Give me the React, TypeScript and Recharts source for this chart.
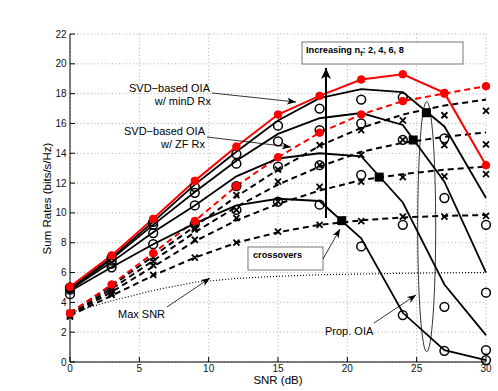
import React from "react";
import { ComposedChart, Line, Scatter, XAxis, YAxis, CartesianGrid } from "recharts";

// SNR grid (dB)
const snr = [0, 3, 6, 9, 12, 15, 18, 21, 24, 27, 30];

// SVD-based OIA (red)
const svdMinD = [5.05, 7.15, 9.6, 12.15, 14.45, 16.6, 17.85, 18.95, 19.3, 18.05, 13.2];
const svdZF = [3.27, 5.2, 7.3, 9.46, 11.8, 13.73, 15.38, 16.6, 17.5, 18.0, 18.5];

// Prop. OIA, analysis (solid), n_f = 8, 6, 4, 2
const propA = [4.95, 7.0, 9.4, 11.9, 14.1, 16.2, 17.7, 18.3, 18.1, 15.8, 11.0];
const propB = [4.9, 6.9, 9.2, 11.4, 13.5, 15.3, 16.35, 16.7, 15.9, 12.1, 6.0];
const propC = [4.85, 6.7, 8.7, 10.5, 12.45, 13.65, 14.0, 13.8, 10.7, 5.2, 1.8];
const propD = [4.75, 6.35, 7.9, 9.3, 10.5, 10.95, 10.8, 8.3, 3.3, 0.8, 0.13];

// Prop. OIA, simulation (circles)
const ringA = [5.0, 7.0, 9.4, 11.75, 13.95, 15.85, 17.0, 17.6, 17.75, 15.0, 9.2];
const ringB = [4.95, 6.8, 9.2, 11.35, 13.3, 14.8, 15.55, 16.0, 14.9, 11.0, 4.65];
const ringC = [4.85, 6.6, 8.65, 10.5, 11.8, 13.1, 13.2, 12.55, 9.2, 3.7, 0.8];
const ringD = [4.55, 6.35, 7.9, 9.25, 10.2, 10.75, 10.55, 7.75, 3.15, 0.75, 0.13];

// Conventional OIA, analysis (dashed)
const zfA = [3.3, 5.1, 7.1, 9.1, 11.1, 12.9, 14.5, 15.7, 16.6, 17.2, 17.6];
const zfB = [3.2, 4.9, 6.8, 8.7, 10.4, 11.9, 13.1, 14.1, 14.7, 15.1, 15.4];
const zfC = [3.15, 4.7, 6.4, 8.1, 9.5, 10.6, 11.5, 12.2, 12.6, 12.9, 13.1];
const zfD = [3.1, 4.45, 5.8, 7.0, 8.0, 8.7, 9.2, 9.5, 9.7, 9.8, 9.86];

// Conventional OIA, simulation (crosses)
const crossA = [3.3, 5.0, 7.0, 9.0, 11.2, 12.9, 14.55, 15.55, 16.2, 16.55, 16.85];
const crossB = [3.2, 4.8, 6.75, 8.9, 10.2, 12.1, 13.2, 13.9, 14.9, 14.55, 14.6];
const crossC = [3.1, 4.6, 6.5, 8.2, 9.65, 10.75, 11.75, 12.1, 12.4, 12.45, 12.6];
const crossD = [3.05, 4.5, 5.85, 7.0, 8.0, 8.75, 9.2, 9.45, 9.75, 9.75, 9.8];

// Max SNR (dotted)
const maxSnr = [3.3, 4.1, 4.8, 5.35, 5.6, 5.75, 5.85, 5.9, 5.95, 5.98, 6.0];

// crossover points (squares)
const crossSnr = [19.6, 22.3, 24.75, 25.7];
const crossRate = [9.48, 12.4, 14.89, 16.72];

const xTicks = [0, 5, 10, 15, 20, 25, 30];
const yTicks = [0, 2, 4, 6, 8, 10, 12, 14, 16, 18, 20, 22];

const rows = snr.map((s, i) => ({
  snr: s,
  svdMinD: svdMinD[i],
  svdZF: svdZF[i],
  propA: propA[i],
  propB: propB[i],
  propC: propC[i],
  propD: propD[i],
  ringA: ringA[i],
  ringB: ringB[i],
  ringC: ringC[i],
  ringD: ringD[i],
  zfA: zfA[i],
  zfB: zfB[i],
  zfC: zfC[i],
  zfD: zfD[i],
  crossA: crossA[i],
  crossB: crossB[i],
  crossC: crossC[i],
  crossD: crossD[i],
  maxSnr: maxSnr[i],
}));

const crossovers = crossSnr.map((s, i) => ({ snr: s, rate: crossRate[i] }));

const FONT = "'Liberation Sans', Arial, sans-serif";

const ring = (p: any) => (
  <circle key={`r-${p.dataKey}-${p.index}`} cx={p.cx} cy={p.cy} r={4.4} fill="none" stroke="#000" strokeWidth={1.5} />
);

const cross = (p: any) => {
  const { cx, cy } = p;
  const s = 3;
  return (
    <path
      key={`x-${p.dataKey}-${p.index}`}
      d={`M${cx - s},${cy - s}L${cx + s},${cy + s}M${cx - s},${cy + s}L${cx + s},${cy - s}`}
      stroke="#000"
      strokeWidth={1.8}
      fill="none"
    />
  );
};

const redDot = (p: any) => (
  <circle key={`d-${p.dataKey}-${p.index}`} cx={p.cx} cy={p.cy} r={3.8} fill="#f00" stroke="#f00" strokeWidth={1} />
);

const square = (p: any) => <rect x={p.cx - 4.5} y={p.cy - 4.5} width={9} height={9} fill="#000" />;

const tickStyle = { fontSize: 10, fill: "#111", fontFamily: FONT };

export default function App() {
  const dashed = { stroke: "#000", strokeWidth: 2, strokeDasharray: "6 4", dot: false, isAnimationActive: false, activeDot: false } as any;
  const solid = { stroke: "#000", strokeWidth: 1.8, dot: false, isAnimationActive: false, activeDot: false } as any;
  const marks = { stroke: "none", isAnimationActive: false, activeDot: false } as any;

  return (
    <div style={{ position: "absolute", left: 0, top: 0, width: 498, height: 391, background: "#fff" }}>
      <ComposedChart width={498} height={391} data={rows} margin={{ top: 34, right: 12, bottom: 0, left: 30 }}>
        <CartesianGrid stroke="#999" strokeDasharray="1 2.5" strokeWidth={0.8} />
        <XAxis
          dataKey="snr"
          type="number"
          domain={[0, 30]}
          ticks={xTicks}
          height={29}
          tickSize={-5}
          tickMargin={8}
          tick={tickStyle}
          stroke="#000"
        />
        <XAxis
          xAxisId="top"
          orientation="top"
          type="number"
          domain={[0, 30]}
          ticks={xTicks}
          height={0}
          tickSize={-5}
          tick={false}
          stroke="#000"
        />
        <YAxis
          type="number"
          domain={[0, 22]}
          ticks={yTicks}
          width={40}
          tickSize={-5}
          tickMargin={8.5}
          tick={tickStyle}
          stroke="#000"
        />
        <YAxis
          yAxisId="right"
          orientation="right"
          type="number"
          domain={[0, 22]}
          ticks={yTicks}
          width={0}
          tickSize={-5}
          tick={false}
          stroke="#000"
        />

        <Line dataKey="maxSnr" stroke="#000" strokeWidth={1.2} strokeDasharray="1 2" dot={false} activeDot={false} isAnimationActive={false} />

        <Line dataKey="zfD" {...dashed} />
        <Line dataKey="zfC" {...dashed} />
        <Line dataKey="zfB" {...dashed} />
        <Line dataKey="zfA" {...dashed} />
        <Line dataKey="svdZF" {...dashed} stroke="#f00" />

        <Line dataKey="propD" {...solid} />
        <Line dataKey="propC" {...solid} />
        <Line dataKey="propB" {...solid} />
        <Line dataKey="propA" {...solid} />
        <Line dataKey="svdMinD" stroke="#f00" strokeWidth={2} dot={false} activeDot={false} isAnimationActive={false} />

        <Line dataKey="crossD" {...marks} dot={cross} />
        <Line dataKey="crossC" {...marks} dot={cross} />
        <Line dataKey="crossB" {...marks} dot={cross} />
        <Line dataKey="crossA" {...marks} dot={cross} />
        <Line dataKey="ringD" {...marks} dot={ring} />
        <Line dataKey="ringC" {...marks} dot={ring} />
        <Line dataKey="ringB" {...marks} dot={ring} />
        <Line dataKey="ringA" {...marks} dot={ring} />
        <Line dataKey="svdZF" {...marks} dot={redDot} />
        <Line dataKey="svdMinD" {...marks} dot={redDot} />

        <Scatter data={crossovers} dataKey="rate" shape={square} isAnimationActive={false} />
      </ComposedChart>

      <svg width={498} height={391} style={{ position: "absolute", left: 0, top: 0, pointerEvents: "none" }} fontFamily={FONT}>
        <defs>
          <marker id="ah" markerUnits="userSpaceOnUse" markerWidth={9} markerHeight={7} refX={9} refY={3.5} orient="auto">
            <path d="M0,0 L9,3.5 L0,7 L2.5,3.5 z" fill="#000" />
          </marker>
          <marker id="ahBig" markerUnits="userSpaceOnUse" markerWidth={11} markerHeight={10} refX={11} refY={5} orient="auto">
            <path d="M0,0 L11,5 L0,10 L3,5 z" fill="#000" />
          </marker>
        </defs>

        <text x={210} y={91.5} fontSize={11} textAnchor="end" fill="#000">SVD−based OIA</text>
        <text x={211} y={105} fontSize={11} textAnchor="end" fill="#000">w/ minD Rx</text>
        <line x1={212} y1={93} x2={296} y2={102} stroke="#000" strokeWidth={0.8} markerEnd="url(#ah)" />

        <text x={205} y={135} fontSize={11} textAnchor="end" fill="#000">SVD−based OIA</text>
        <text x={205} y={148} fontSize={11} textAnchor="end" fill="#000">w/ ZF Rx</text>
        <line x1={207} y1={137} x2={291} y2={147} stroke="#000" strokeWidth={0.8} markerEnd="url(#ah)" />

        <line x1={326} y1={218} x2={326} y2={68} stroke="#000" strokeWidth={2} markerEnd="url(#ahBig)" />
        <rect x={302} y={42} width={161} height={22} fill="#fff" stroke="#777" strokeWidth={1} />
        <text x={306} y={53} fontSize={9.2} fontWeight="bold" fill="#000">
          Increasing n
          <tspan fontSize={7} dy={3}>f</tspan>
          <tspan dy={-3}>: 2, 4, 6, 8</tspan>
        </text>

        <rect x={248} y={247} width={75} height={23} fill="#fff" stroke="#777" strokeWidth={1} />
        <text x={253} y={258} fontSize={9.2} fontWeight="bold" fill="#000">crossovers</text>
        <line x1={323} y1={259} x2={340} y2={229} stroke="#000" strokeWidth={0.8} markerEnd="url(#ah)" />

        <text x={118} y={318} fontSize={11} fill="#000">Max SNR</text>
        <line x1={167} y1={307} x2={210} y2={278} stroke="#000" strokeWidth={0.8} markerEnd="url(#ah)" />

        <text x={325} y={335} fontSize={11} fill="#000">Prop. OIA</text>
        <line x1={374} y1={323} x2={416} y2={295} stroke="#000" strokeWidth={0.8} markerEnd="url(#ah)" />

        <ellipse cx={426.7} cy={226.7} rx={9} ry={125} fill="none" stroke="#000" strokeWidth={0.8} />

        <text x={278} y={384} fontSize={11.5} textAnchor="middle" fill="#000">SNR (dB)</text>
        <text x={51} y={198.5} fontSize={11.5} textAnchor="middle" fill="#000" transform="rotate(-90 51 198.5)">
          Sum Rates (bits/s/Hz)
        </text>
      </svg>
    </div>
  );
}
